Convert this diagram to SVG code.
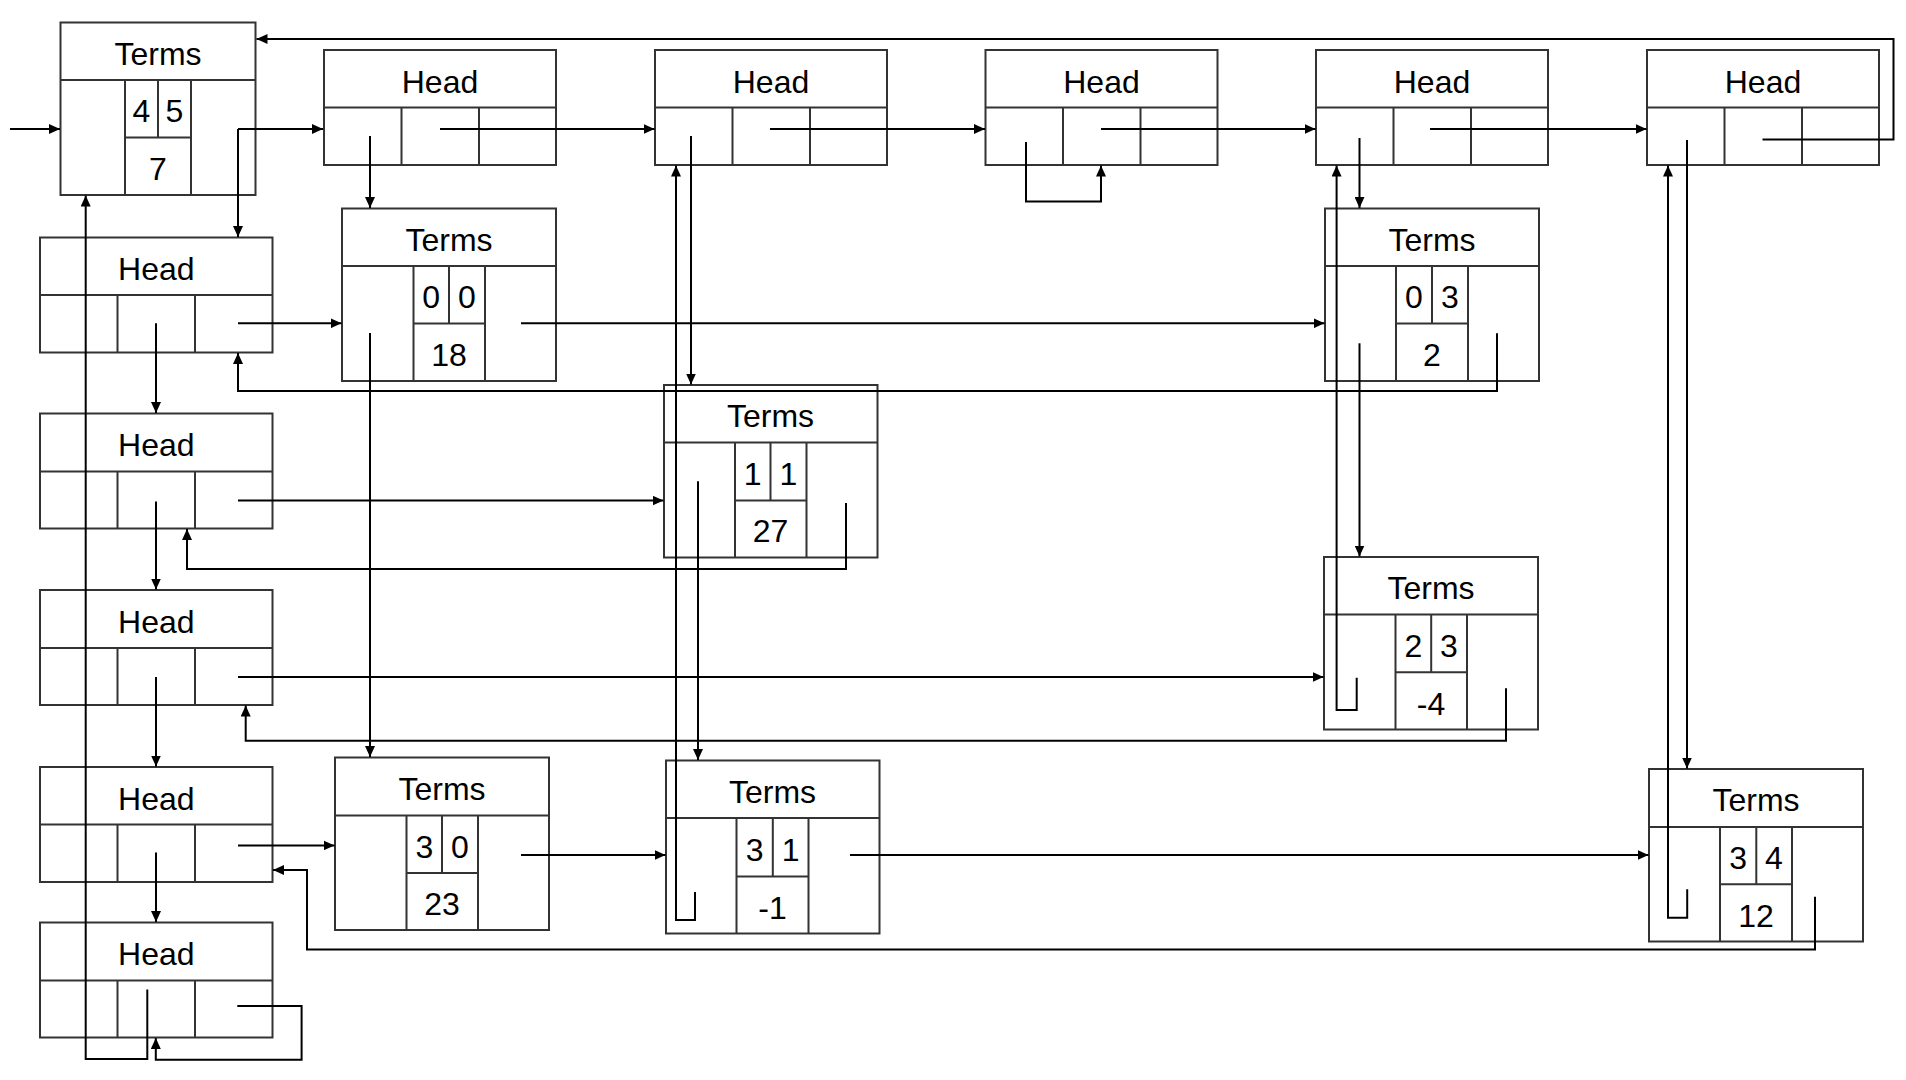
<svg xmlns="http://www.w3.org/2000/svg" width="1906" height="1080" viewBox="0 0 1906 1080">
<style>
.box{fill:#fff;stroke:#333;stroke-width:2}
.ln{fill:none;stroke:#333;stroke-width:2}
.t{font-family:"Liberation Sans",Arial,sans-serif;font-size:32px;fill:#000;text-anchor:middle}
.c{fill:none;stroke:#000;stroke-width:2;marker-end:url(#ah)}
</style>
<defs>
<marker id="ah" markerUnits="userSpaceOnUse" markerWidth="12" markerHeight="10" refX="11" refY="5" orient="auto">
<path d="M0,0 L11,5 L0,10 Z" fill="#000"/>
</marker>
</defs>
<rect width="1906" height="1080" fill="#fff"/>

<!-- Terms0 -->
<g id="terms-root">
<rect class="box" x="60.5" y="22.5" width="195" height="172.5"/>
<path class="ln" d="M60.5,80 H255.5 M125,80 V195 M191,80 V195 M158,80 V137.5 M125,137.5 H191"/>
<text class="t" x="158" y="65">Terms</text>
<text class="t" x="141.5" y="122">4</text>
<text class="t" x="174.5" y="122">5</text>
<text class="t" x="158" y="180">7</text>
</g>

<!-- Top heads -->
<g id="head-c1">
<rect class="box" x="324" y="50" width="232" height="115"/>
<path class="ln" d="M324,107.5 H556 M401.5,107.5 V165 M479,107.5 V165"/>
<text class="t" x="440" y="92.5">Head</text>
</g>
<g id="head-c2">
<rect class="box" x="655" y="50" width="232" height="115"/>
<path class="ln" d="M655,107.5 H887 M732.5,107.5 V165 M810,107.5 V165"/>
<text class="t" x="771" y="92.5">Head</text>
</g>
<g id="head-c3">
<rect class="box" x="985.5" y="50" width="232" height="115"/>
<path class="ln" d="M985.5,107.5 H1217.5 M1063,107.5 V165 M1140.5,107.5 V165"/>
<text class="t" x="1101.5" y="92.5">Head</text>
</g>
<g id="head-c4">
<rect class="box" x="1316" y="50" width="232" height="115"/>
<path class="ln" d="M1316,107.5 H1548 M1393.5,107.5 V165 M1471,107.5 V165"/>
<text class="t" x="1432" y="92.5">Head</text>
</g>
<g id="head-c5">
<rect class="box" x="1647" y="50" width="232" height="115"/>
<path class="ln" d="M1647,107.5 H1879 M1724.5,107.5 V165 M1802,107.5 V165"/>
<text class="t" x="1763" y="92.5">Head</text>
</g>

<!-- Left heads -->
<g id="head-r1">
<rect class="box" x="40" y="237.5" width="232.5" height="115"/>
<path class="ln" d="M40,295 H272.5 M117.5,295 V352.5 M195,295 V352.5"/>
<text class="t" x="156.3" y="280">Head</text>
</g>
<g id="head-r2">
<rect class="box" x="40" y="413.5" width="232.5" height="115"/>
<path class="ln" d="M40,471.5 H272.5 M117.5,471.5 V528.5 M195,471.5 V528.5"/>
<text class="t" x="156.3" y="456">Head</text>
</g>
<g id="head-r3">
<rect class="box" x="40" y="590" width="232.5" height="115"/>
<path class="ln" d="M40,648 H272.5 M117.5,648 V705 M195,648 V705"/>
<text class="t" x="156.3" y="632.5">Head</text>
</g>
<g id="head-r4">
<rect class="box" x="40" y="767" width="232.5" height="115"/>
<path class="ln" d="M40,824.5 H272.5 M117.5,824.5 V882 M195,824.5 V882"/>
<text class="t" x="156.3" y="809.5">Head</text>
</g>
<g id="head-r5">
<rect class="box" x="40" y="922.5" width="232.5" height="115"/>
<path class="ln" d="M40,980.5 H272.5 M117.5,980.5 V1037.5 M195,980.5 V1037.5"/>
<text class="t" x="156.3" y="965">Head</text>
</g>

<!-- Terms nodes -->
<g id="term-00">
<rect class="box" x="342" y="208.5" width="214" height="172.5"/>
<path class="ln" d="M342,266 H556 M413.5,266 V381 M485,266 V381 M449,266 V323.5 M413.5,323.5 H485"/>
<text class="t" x="449" y="250.5">Terms</text>
<text class="t" x="431.2" y="308">0</text>
<text class="t" x="467" y="308">0</text>
<text class="t" x="449" y="366">18</text>
</g>
<g id="term-11">
<rect class="box" x="664" y="385" width="213.5" height="172.5"/>
<path class="ln" d="M664,442.5 H877.5 M735,442.5 V557.5 M806.5,442.5 V557.5 M770.5,442.5 V500.5 M735,500.5 H806.5"/>
<text class="t" x="770.5" y="427">Terms</text>
<text class="t" x="752.7" y="484.5">1</text>
<text class="t" x="788.5" y="484.5">1</text>
<text class="t" x="770.5" y="542">27</text>
</g>
<g id="term-03">
<rect class="box" x="1325" y="208.5" width="214" height="172.5"/>
<path class="ln" d="M1325,266 H1539 M1396,266 V381 M1468,266 V381 M1432,266 V323.5 M1396,323.5 H1468"/>
<text class="t" x="1432" y="250.5">Terms</text>
<text class="t" x="1414" y="308">0</text>
<text class="t" x="1450" y="308">3</text>
<text class="t" x="1432" y="366">2</text>
</g>
<g id="term-23">
<rect class="box" x="1324" y="557" width="214" height="172.5"/>
<path class="ln" d="M1324,614.5 H1538 M1395.5,614.5 V729.5 M1467,614.5 V729.5 M1431.2,614.5 V672.3 M1395.5,672.3 H1467"/>
<text class="t" x="1431" y="599">Terms</text>
<text class="t" x="1413.3" y="656.5">2</text>
<text class="t" x="1449" y="656.5">3</text>
<text class="t" x="1431" y="714.5">-4</text>
</g>
<g id="term-30">
<rect class="box" x="335" y="757.5" width="214" height="172.5"/>
<path class="ln" d="M335,815.5 H549 M406.5,815.5 V930 M478,815.5 V930 M442,815.5 V873 M406.5,873 H478"/>
<text class="t" x="442" y="800">Terms</text>
<text class="t" x="424.3" y="857.5">3</text>
<text class="t" x="460" y="857.5">0</text>
<text class="t" x="442" y="915">23</text>
</g>
<g id="term-31">
<rect class="box" x="666" y="760.5" width="213.5" height="173"/>
<path class="ln" d="M666,818 H879.5 M736.5,818 V933.5 M808.5,818 V933.5 M772.8,818 V876.5 M736.5,876.5 H808.5"/>
<text class="t" x="772.5" y="803">Terms</text>
<text class="t" x="754.7" y="860.5">3</text>
<text class="t" x="790.6" y="860.5">1</text>
<text class="t" x="772.5" y="918.5">-1</text>
</g>
<g id="term-34">
<rect class="box" x="1649" y="769" width="214" height="172.5"/>
<path class="ln" d="M1649,827 H1863 M1720,827 V941.5 M1792,827 V941.5 M1756.3,827 V884.3 M1720,884.3 H1792"/>
<text class="t" x="1756" y="811">Terms</text>
<text class="t" x="1738.2" y="868.5">3</text>
<text class="t" x="1774" y="868.5">4</text>
<text class="t" x="1756" y="926.5">12</text>
</g>

<!-- Connectors -->
<g id="connectors">
<path class="c" d="M10,129 H60"/>
<path class="c" d="M238,129 H323"/>
<path class="c" d="M238,129 V237"/>
<path class="c" d="M1762.5,139.5 H1893.5 V39 H256.5"/>
<path class="c" d="M440,129 H654.5"/>
<path class="c" d="M770,129 H985"/>
<path class="c" d="M1101,129 H1315.5"/>
<path class="c" d="M1430,129 H1646.5"/>
<path class="c" d="M370,136 V208"/>
<path class="c" d="M691,136 V384.5"/>
<path class="c" d="M1026,142 V201.5 H1101 V165.5"/>
<path class="c" d="M1359.5,138 V208"/>
<path class="c" d="M1687,140 V768.5"/>
<path class="c" d="M238,323.3 H341.5"/>
<path class="c" d="M521,323.3 H1324.5"/>
<path class="c" d="M156,323.3 V413"/>
<path class="c" d="M1497,333.3 V391 H238 V353"/>
<path class="c" d="M370,333 V757"/>
<path class="c" d="M238,500.6 H663.5"/>
<path class="c" d="M156,501.5 V589.5"/>
<path class="c" d="M846,503 V569 H187 V529"/>
<path class="c" d="M698,481.3 V760"/>
<path class="c" d="M1359.5,343.3 V556.5"/>
<path class="c" d="M238,677 H1323.5"/>
<path class="c" d="M156,677 V766.5"/>
<path class="c" d="M1506,688.3 V740.7 H245.7 V705.5"/>
<path class="c" d="M238,845.4 H334.5"/>
<path class="c" d="M156,852.5 V922"/>
<path class="c" d="M1815,896.7 V949.5 H307 V870 H273"/>
<path class="c" d="M521,855 H665.5"/>
<path class="c" d="M850,855 H1648.5"/>
<path class="c" d="M695,892 V920 H676 V165.5"/>
<path class="c" d="M1356.7,677.7 V710 H1336.6 V165.5"/>
<path class="c" d="M1687.2,889.3 V917.7 H1668 V165.5"/>
<path class="c" d="M147.3,989.6 V1059 H85.7 V195.5"/>
<path class="c" d="M237.3,1006 H301.6 V1059.8 H155.8 V1038"/>
</g>
</svg>
